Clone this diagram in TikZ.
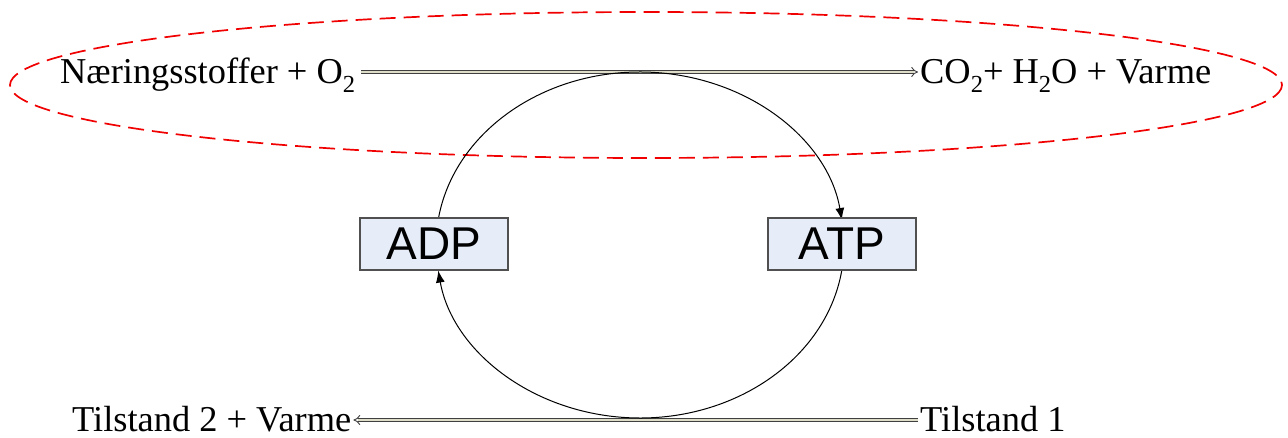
\documentclass[tikz,border=0pt]{standalone}
\usepackage{fontspec}
\setmainfont{Liberation Serif}
\newfontfamily\boxfont{Liberation Sans}
\usetikzlibrary{arrows.meta}

\definecolor{boxfill}{RGB}{230,236,248}
\definecolor{boxedge}{RGB}{80,80,80}
\definecolor{shaft}{RGB}{221,221,200}
\definecolor{ringred}{RGB}{240,0,0}

% lowered, smaller digit for chemical formulas
\newcommand\chemsub[1]{\raisebox{-0.22em}{\fontsize{24.5}{25}\selectfont #1}}

\tikzset{
  eqtext/.style={inner sep=0pt, font=\fontsize{36.4}{40}\selectfont},
  molbox/.style={draw=boxedge, line width=1.1pt, fill=boxfill,
    minimum width=148pt, minimum height=52pt, inner sep=0pt,
    font=\boxfont\fontsize{46}{50}\selectfont},
  reaction/.style={draw=black!75, line width=0.9pt, double=shaft,
    double distance=2.6pt, -{Implies[]}},
  cyclearrow/.style={draw=black, line width=1pt,
    -{Latex[length=12pt,width=9pt]}},
  envelope/.style={draw=ringred, line width=1.7pt,
    dash pattern=on 16pt off 8pt}
}

\begin{document}
\begin{tikzpicture}[x=1pt,y=-1pt]
\useasboundingbox (0,0) rectangle (1288,438);

% ring of the ADP/ATP cycle
\coordinate (hub) at (640,245);

% red dashed outline round the combustion reaction
\draw[envelope] (646,85) ellipse[x radius=636, y radius=73];

% upper and lower reactions
\node[eqtext, anchor=base west] (food) at (60,84) {Næringsstoffer + O\chemsub{2}};
\node[eqtext, anchor=base west] (prod) at (920,84) {CO\chemsub{2}+ H\chemsub{2}O + Varme};
\node[eqtext, anchor=base west] (stA) at (72,431) {Tilstand 2 + Varme};
\node[eqtext, anchor=base west] (stB) at (920,431) {Tilstand 1};

\draw[reaction] ([xshift=6pt,yshift=12pt]food.base east) -- ([xshift=-2pt,yshift=12pt]prod.base west);
\draw[reaction] ([xshift=-2pt,yshift=11pt]stB.base west) -- ([xshift=2pt,yshift=11pt]stA.base east);

% cycle arcs, drawn below the boxes
\draw[cyclearrow] ([shift={(-172.4:204 and 173)}]hub) arc[start angle=-172.4, end angle=-8.3, x radius=204, y radius=173];
\draw[cyclearrow] ([shift={(8.5:204 and 173)}]hub) arc[start angle=8.5, end angle=171.5, x radius=204, y radius=173];

% energy carriers
\node[molbox] (adp) at (434,244) {ADP};
\node[molbox] (atp) at (842,244) {ATP};
\end{tikzpicture}
\end{document}
